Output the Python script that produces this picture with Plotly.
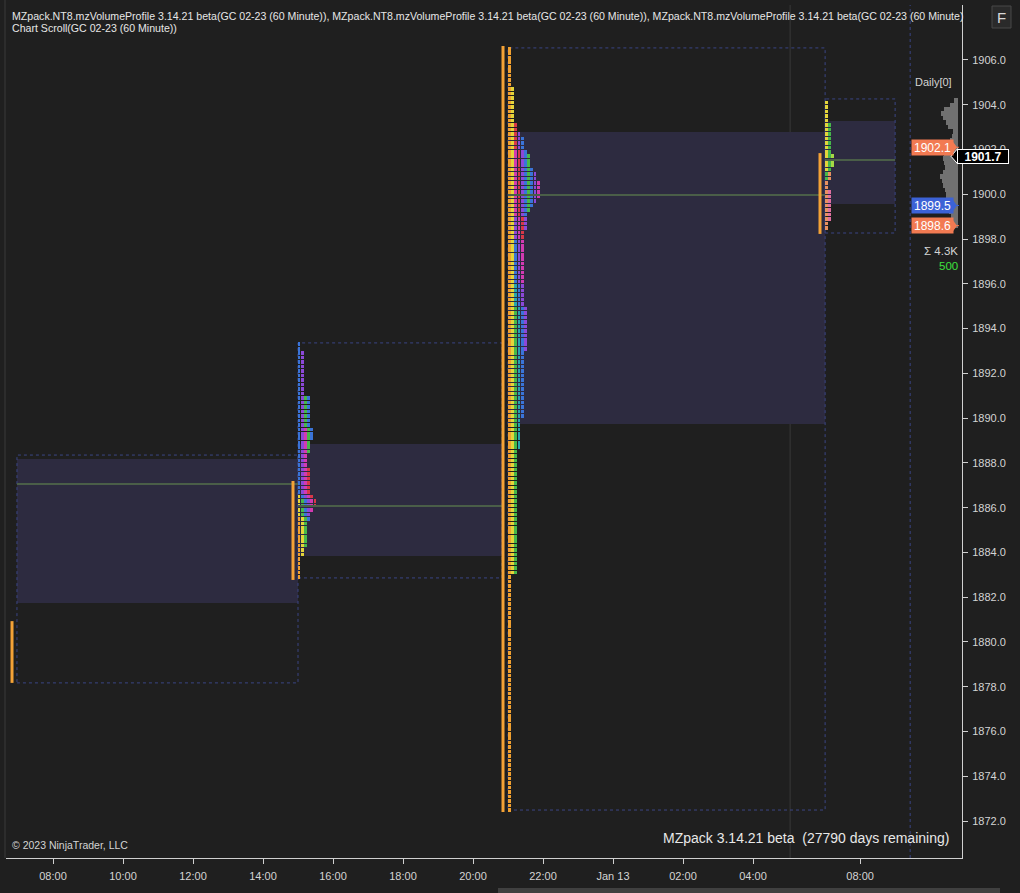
import numpy as np
import plotly.graph_objects as go

# ---------------- canvas / layout constants ----------------
W, H = 1020, 893
ML, MR, MT, MB = 6, 58, 5, 35
PW, PH = W - ML - MR, H - MT - MB

# x = hours after 08:00 (Jan 12), y = price
X_RANGE = [-1.343, 25.971]
Y_RANGE = [1870.347, 1908.457]

# ---------------- data ----------------
x_tick_vals = [0, 2, 4, 6, 8, 10, 12, 14, 16, 18, 20, 23.06]
x_tick_text = ["08:00", "10:00", "12:00", "14:00", "16:00", "18:00", "20:00",
               "22:00", "Jan 13", "02:00", "04:00", "08:00"]
y_tick_vals = [1872, 1874, 1876, 1878, 1880, 1882, 1884, 1886, 1888, 1890, 1892, 1894,
               1896, 1898, 1900, 1902, 1904, 1906]

# session profiles
sess_start = [-1.03, 7.0, 13.0, 22.06]
sess_end = [7.0, 12.83, 22.06, 24.06]
sess_high = [1888.35, 1893.36, 1906.54, 1904.26]
sess_low = [1878.17, 1882.86, 1872.49, 1898.27]
va_high = [1888.17, 1888.84, 1902.78, 1903.27]
va_low = [1881.74, 1883.84, 1889.74, 1899.57]
poc_price = [1887.06, 1886.07, 1899.97, 1901.53]

# orange price bars
bar_time = [-1.171, 6.857, 12.857, 21.914]
bar_high = [1880.93, 1887.19, 1906.63, 1901.84]
bar_low = [1878.17, 1882.77, 1872.40, 1898.23]

# per-period price ranges inside each session histogram
p2_start = 6.986
p2_low = [1882.8, 1883.8, 1884.3, 1885.5, 1885.7, 1885.9, 1886.0, 1888.5, 1889.0]
p2_high = [1885.5, 1886.6, 1886.4, 1893.4, 1893.0, 1889.5, 1887.8, 1891.0, 1891.0]
p2_color = ["orange", "yellow", "green", "blue", "purple", "magenta", "red", "green", "blue"]

p3_start = 13.0
p3_low = [1872.4, 1883.0, 1883.0, 1888.6, 1890.0, 1893.0, 1896.0, 1898.0,
          1898.5, 1899.0, 1899.3, 1899.5, 1899.6, 1899.8]
p3_high = [1906.6, 1904.8, 1895.0, 1896.0, 1898.0, 1899.0, 1902.0, 1903.2,
           1902.8, 1902.5, 1901.8, 1901.2, 1901.0, 1900.6]
p3_color = ["orange", "yellow", "green", "teal", "blue", "purple", "magenta", "red",
            "purple", "blue", "green", "blue", "purple", "magenta"]

p4_start = 22.057
p4_low = [1901.0, 1900.6, 1901.2, 1898.4, 1898.8]
p4_high = [1904.3, 1903.2, 1901.8, 1901.0, 1900.2]
p4_color = ["yellow", "green", "lime", "salmon", "pink"]

# Daily[0] profile (price, volume)
daily_price = [1904.2, 1904.0, 1903.8, 1903.6, 1903.4, 1903.2, 1903.0, 1902.8, 1902.6,
               1902.4, 1902.2, 1902.0, 1901.8, 1901.6, 1901.4, 1901.2, 1901.0, 1900.8,
               1900.6, 1900.4, 1900.2, 1900.0, 1899.8, 1899.6, 1899.4, 1899.2, 1899.0,
               1898.8, 1898.6]
daily_vol = [40, 80, 140, 170, 150, 120, 100, 50, 60, 80, 100, 120, 140, 150, 140, 130,
             150, 180, 160, 150, 130, 120, 120, 110, 100, 90, 70, 50, 30]

# price markers
marker_price = [1902.1, 1899.5, 1898.6]
marker_color = ["#f27a52", "#3c62d6", "#f27a52"]
last_price = 1901.7

# ---------------- styles ----------------
BG = "#1f1f1f"
TXT = "#d4d4d4"
PAL = {"orange": "#f0a030", "yellow": "#e4d43a", "green": "#46b84a", "teal": "#26a6b0",
       "blue": "#3a74d8", "purple": "#8c48d8", "magenta": "#d23ab2", "red": "#d83848",
       "lime": "#a6d846", "salmon": "#e89060", "pink": "#e070a0"}
HOUR_PX = 35.0
COLW = 3.2 / HOUR_PX
ROW = 0.2
FONT = "Liberation Sans, Arial, sans-serif"


def px_x(px):
    return (px - ML) / PW


def px_y(py):
    return 1 - (py - MT) / PH


def price_py(p):
    return MT + (Y_RANGE[1] - p) / (Y_RANGE[1] - Y_RANGE[0]) * PH


fig = go.Figure()

# value areas and session boxes
for i in range(len(sess_start)):
    fig.add_shape(type="rect", xref="x", yref="y", x0=sess_start[i], x1=sess_end[i],
                  y0=va_low[i], y1=va_high[i], fillcolor="#2d2b40", line_width=0, layer="below")
    fig.add_shape(type="rect", xref="x", yref="y", x0=sess_start[i], x1=sess_end[i],
                  y0=sess_low[i], y1=sess_high[i], fillcolor="rgba(0,0,0,0)",
                  line=dict(color="#3a4584", width=1, dash="dot"), layer="below")

# vertical guide lines
fig.add_shape(type="line", xref="x", yref="paper", x0=21.06, x1=21.06, y0=0, y1=1,
              line=dict(color="#383838", width=1), layer="below")
fig.add_shape(type="line", xref="x", yref="paper", x0=24.49, x1=24.49, y0=0, y1=1,
              line=dict(color="#3a4584", width=1, dash="dot"), layer="below")

# POC lines
px_, py_ = [], []
for i in range(len(sess_start)):
    px_ += [sess_start[i], sess_end[i], None]
    py_ += [poc_price[i], poc_price[i], None]
fig.add_trace(go.Scatter(x=px_, y=py_, mode="lines", line=dict(color="#4a5e48", width=2),
                         hoverinfo="skip", showlegend=False))


def add_profile(x0, lows, highs, cols):
    grid = np.round(np.arange(min(lows) + ROW / 2, max(highs), ROW), 3)
    count = np.zeros(len(grid))
    for lo, hi, c in zip(lows, highs, cols):
        m = (grid >= lo) & (grid <= hi)
        if not m.any():
            continue
        fig.add_trace(go.Bar(orientation="h", y=grid[m], x=np.full(int(m.sum()), COLW * 0.88),
                             base=x0 + count[m] * COLW, width=ROW * 0.8,
                             marker=dict(color=PAL[c], line_width=0),
                             hoverinfo="skip", showlegend=False))
        count[m] += 1


add_profile(p2_start, p2_low, p2_high, p2_color)
add_profile(p3_start, p3_low, p3_high, p3_color)
add_profile(p4_start, p4_low, p4_high, p4_color)

# orange price bars
bx, by = [], []
for i in range(len(bar_time)):
    bx += [bar_time[i], bar_time[i], None]
    by += [bar_low[i], bar_high[i], None]
fig.add_trace(go.Scatter(x=bx, y=by, mode="lines", line=dict(color="#f4a236", width=3),
                         hoverinfo="skip", showlegend=False))

# Daily[0] profile, anchored at the right edge
right_edge = (958 - 53) / HOUR_PX
vol_scale = 0.1 / HOUR_PX
dv = np.array(daily_vol) * vol_scale
fig.add_trace(go.Bar(orientation="h", y=daily_price, x=dv, base=right_edge - dv, width=ROW,
                     marker=dict(color="#717171", line_width=0), hoverinfo="skip",
                     showlegend=False))

# price marker ticks + labels with pointed right end
ann = []
for p, c in zip(marker_price, marker_color):
    fig.add_shape(type="line", xref="x", yref="y", x0=(956 - 53) / HOUR_PX,
                  x1=(962 - 53) / HOUR_PX, y0=p, y1=p, line=dict(color=c, width=1, dash="dot"))
    yc = price_py(p)
    fig.add_shape(type="path", xref="paper", yref="paper",
                  path=(f"M {px_x(951.5)},{px_y(yc - 7.5)} L {px_x(957)},{px_y(yc)} "
                        f"L {px_x(951.5)},{px_y(yc + 7.5)} Z"),
                  fillcolor=c, line_width=0)
    ann.append(dict(xref="paper", yref="y", x=px_x(911), y=p, xanchor="left", yanchor="middle",
                    text=f"{p:.1f}", showarrow=False, bgcolor=c, borderpad=2, width=37,
                    height=11, align="center",
                    font=dict(family=FONT, size=12, color="#ffffff")))

# last price label on the axis
yl = price_py(last_price)
ann.append(dict(xref="paper", yref="y", x=px_x(957), y=last_price, xanchor="left",
                yanchor="middle", text=f"<b>{last_price:.1f}</b>", showarrow=False,
                bgcolor="#000000", bordercolor="#ffffff", borderwidth=1, borderpad=1,
                width=48, height=11, align="center",
                font=dict(family=FONT, size=12, color="#ffffff")))

ann.append(dict(xref="paper", yref="paper", x=px_x(933), y=px_y(82), text="Daily[0]",
                showarrow=False, xanchor="center", yanchor="middle",
                font=dict(family=FONT, size=11, color=TXT)))
ann.append(dict(xref="paper", yref="paper", x=px_x(960), y=px_y(251), text="Σ 4.3K",
                showarrow=False, xanchor="right", yanchor="middle",
                font=dict(family=FONT, size=11.5, color=TXT)))
ann.append(dict(xref="paper", yref="paper", x=px_x(960), y=px_y(266), text="500",
                showarrow=False, xanchor="right", yanchor="middle",
                font=dict(family=FONT, size=11.5, color="#3ee03e")))
title1 = ("MZpack.NT8.mzVolumeProfile 3.14.21 beta(GC 02-23 (60 Minute)), "
          "MZpack.NT8.mzVolumeProfile 3.14.21 beta(GC 02-23 (60 Minute)), "
          "MZpack.NT8.mzVolumeProfile 3.14.21 beta(GC 02-23 (60 Minute)")
ann.append(dict(xref="paper", yref="paper", x=px_x(10), y=px_y(16), text=title1,
                showarrow=False, xanchor="left", yanchor="middle",
                font=dict(family=FONT, size=10.6, color="#e6e6e6")))
ann.append(dict(xref="paper", yref="paper", x=px_x(10), y=px_y(28),
                text="Chart Scroll(GC 02-23 (60 Minute))",
                showarrow=False, xanchor="left", yanchor="middle",
                font=dict(family=FONT, size=10.6, color="#e6e6e6")))
ann.append(dict(xref="paper", yref="paper", x=px_x(10), y=px_y(845),
                text="© 2023 NinjaTrader, LLC", showarrow=False, xanchor="left",
                yanchor="middle", font=dict(family=FONT, size=10.5, color=TXT)))
ann.append(dict(xref="paper", yref="paper", x=px_x(951), y=px_y(838),
                text="MZpack 3.14.21 beta\u00a0 (27790 days remaining)", showarrow=False,
                xanchor="right", yanchor="middle", font=dict(family=FONT, size=14, color="#e8e8e8")))
ann.append(dict(xref="paper", yref="paper", x=px_x(1001.5), y=px_y(17), text="F",
                showarrow=False, xanchor="center", yanchor="middle",
                font=dict(family=FONT, size=15, color="#d8d8d8")))

shapes_extra = [
    dict(type="path", xref="paper", yref="paper",
         path=(f"M {px_x(957.5)},{px_y(yl - 7.5)} L {px_x(951)},{px_y(yl)} "
               f"L {px_x(957.5)},{px_y(yl + 7.5)} Z"),
         fillcolor="#000000", line=dict(color="#ffffff", width=1)),
    dict(type="rect", xref="paper", yref="paper", x0=px_x(992), x1=px_x(1011),
         y0=px_y(28), y1=px_y(6), fillcolor="#2a2a2a", line=dict(color="#484848", width=1)),
    dict(type="line", xref="paper", yref="paper", x0=px_x(5), x1=px_x(5), y0=0, y1=px_y(0),
         line=dict(color="#3a3a3a", width=1)),
    dict(type="rect", xref="paper", yref="paper", x0=px_x(498), x1=px_x(1000),
         y0=px_y(893), y1=px_y(888), fillcolor="#404040", line_width=0),
]
for s in shapes_extra:
    fig.add_shape(**s)

fig.update_layout(
    width=W, height=H, margin=dict(l=ML, r=MR, t=MT, b=MB),
    paper_bgcolor=BG, plot_bgcolor=BG, barmode="overlay", bargap=0,
    showlegend=False, annotations=ann,
    xaxis=dict(range=X_RANGE, tickvals=x_tick_vals, ticktext=x_tick_text, showgrid=False,
               zeroline=False, showline=True, linecolor="#d0d0d0", linewidth=1,
               ticks="outside", ticklen=5, tickcolor="#d0d0d0", ticklabelstandoff=3,
               tickfont=dict(family=FONT, size=11, color=TXT), fixedrange=True),
    yaxis=dict(range=Y_RANGE, side="right", tickvals=y_tick_vals, tickformat=".1f",
               showgrid=False, zeroline=False, showline=True, linecolor="#d0d0d0",
               linewidth=1, ticks="outside", ticklen=5, tickcolor="#d0d0d0",
               ticklabelstandoff=2, tickfont=dict(family=FONT, size=11, color=TXT),
               fixedrange=True),
)

fig.write_html("out.html")
